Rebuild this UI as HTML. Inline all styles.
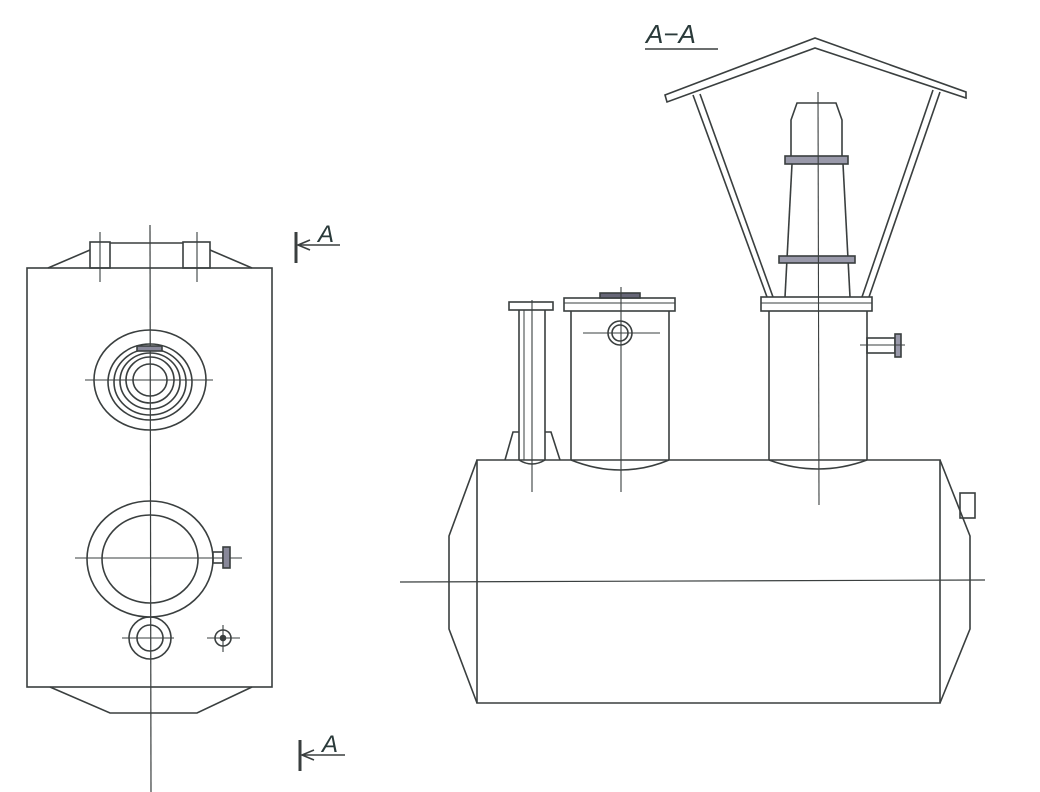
<!DOCTYPE html>
<html><head><meta charset="utf-8"><style>
html,body{margin:0;padding:0;background:#fff}
svg{display:block}
text{font-family:"Liberation Sans",sans-serif;font-style:italic;fill:#2a3a3a}
</style></head><body>
<svg width="1040" height="792" viewBox="0 0 1040 792" xmlns="http://www.w3.org/2000/svg">
<g fill="none" stroke="#3a3f3f" stroke-width="1.6">
<!-- LEFT VIEW -->
<rect x="27" y="268" width="245" height="419"/>
<line x1="150" y1="225" x2="151" y2="792" stroke-width="1.2"/>
<rect x="90" y="242" width="20" height="26"/>
<rect x="183" y="242" width="27" height="26"/>
<line x1="110" y1="243" x2="183" y2="243"/>
<line x1="48" y1="268" x2="90" y2="250"/>
<line x1="210" y1="250" x2="252" y2="268"/>
<line x1="100" y1="232" x2="100" y2="282" stroke-width="1.1"/>
<line x1="197" y1="232" x2="197" y2="282" stroke-width="1.1"/>
<ellipse cx="150" cy="380" rx="56" ry="50"/>
<ellipse cx="150" cy="382" rx="42" ry="38"/>
<ellipse cx="150" cy="382" rx="36" ry="33"/>
<ellipse cx="150" cy="381" rx="30" ry="28"/>
<ellipse cx="150" cy="380" rx="24" ry="23"/>
<ellipse cx="150" cy="380" rx="17" ry="16"/>
<rect x="137" y="346" width="25" height="5" fill="#889"/>
<line x1="85" y1="380" x2="213" y2="380" stroke-width="1.1"/>
<ellipse cx="150" cy="559" rx="63" ry="58"/>
<ellipse cx="150" cy="559" rx="48" ry="44"/>
<line x1="75" y1="558" x2="242" y2="558" stroke-width="1.1"/>
<rect x="213" y="552" width="10" height="11"/>
<rect x="223" y="547" width="7" height="21" fill="#889"/>
<circle cx="150" cy="638" r="21"/>
<circle cx="150" cy="638" r="13"/>
<line x1="122" y1="638" x2="174" y2="638" stroke-width="1.1"/>
<circle cx="223" cy="638" r="8"/>
<circle cx="223" cy="638" r="2.5" fill="#3a3f3f"/>
<line x1="207" y1="638" x2="240" y2="638" stroke-width="1.1"/>
<line x1="223" y1="625" x2="223" y2="652" stroke-width="1.1"/>
<polyline points="50,687 110,713 197,713 252,687"/>
<!-- section marks -->
<line x1="296" y1="232" x2="296" y2="263" stroke-width="3"/>
<line x1="298" y1="245" x2="340" y2="245"/>
<polyline points="310,240 298,245 310,250"/>
<line x1="300" y1="740" x2="300" y2="771" stroke-width="3"/>
<line x1="302" y1="755" x2="345" y2="755"/>
<polyline points="314,750 302,755 314,760"/>
<line x1="645" y1="49" x2="718" y2="49"/>
<!-- RIGHT VIEW tank -->
<polygon points="477,460 940,460 940,703 477,703"/>
<polyline points="477,460 449,536 449,629 477,703"/>
<polyline points="940,460 970,536 970,629 940,703"/>
<rect x="960" y="493" width="15" height="25"/>
<line x1="400" y1="582" x2="985" y2="580" stroke-width="1.2"/>
<!-- small pipe -->
<rect x="509" y="302" width="44" height="8"/>
<line x1="519" y1="310" x2="519" y2="460"/>
<line x1="545" y1="310" x2="545" y2="460"/>
<line x1="524" y1="310" x2="524" y2="460" stroke-width="1"/>
<path d="M519,460 Q532,468 545,460" />
<polyline points="505,460 513,432 519,432"/>
<polyline points="545,432 551,432 560,460"/>
<line x1="532" y1="300" x2="532" y2="492" stroke-width="1.1"/>
<!-- vessel 2 -->
<rect x="564" y="298" width="111" height="13"/>
<line x1="564" y1="303" x2="675" y2="303" stroke-width="1"/>
<rect x="600" y="293" width="40" height="5" fill="#667"/>
<line x1="571" y1="311" x2="571" y2="460"/>
<line x1="669" y1="311" x2="669" y2="460"/>
<path d="M571,460 Q621,480 669,460"/>
<circle cx="620" cy="333" r="12"/>
<circle cx="620" cy="333" r="8"/>
<line x1="583" y1="333" x2="660" y2="333" stroke-width="1.1"/>
<line x1="621" y1="287" x2="621" y2="492" stroke-width="1.1"/>
<!-- chimney -->
<rect x="761" y="297" width="111" height="14"/>
<line x1="761" y1="303" x2="872" y2="303" stroke-width="1"/>
<line x1="769" y1="311" x2="769" y2="460"/>
<line x1="867" y1="311" x2="867" y2="460"/>
<path d="M769,460 Q818,478 867,460"/>
<line x1="785" y1="297" x2="792" y2="164"/>
<line x1="850" y1="297" x2="843" y2="164"/>
<rect x="779" y="256" width="76" height="7" fill="#99a"/>
<rect x="785" y="156" width="63" height="8" fill="#99a"/>
<polyline points="791,156 791,120 797,103 836,103 842,120 842,156"/>
<line x1="818" y1="92" x2="819" y2="505" stroke-width="1.1"/>
<rect x="867" y="338" width="28" height="15"/>
<rect x="895" y="334" width="6" height="23" fill="#99a"/>
<line x1="860" y1="345" x2="905" y2="345" stroke-width="1"/>
<!-- roof -->
<polygon points="665,95 815,38 966,92 966,98 815,48 667,102"/>
<line x1="693" y1="95" x2="767" y2="297"/>
<line x1="700" y1="94" x2="773" y2="297"/>
<line x1="933" y1="90" x2="862" y2="297"/>
<line x1="940" y1="92" x2="869" y2="297"/>
</g>
<text x="318" y="242" font-size="24">A</text>
<text x="322" y="752" font-size="24">A</text>
<text x="646" y="43" font-size="26">A−A</text>
</svg>
</body></html>
